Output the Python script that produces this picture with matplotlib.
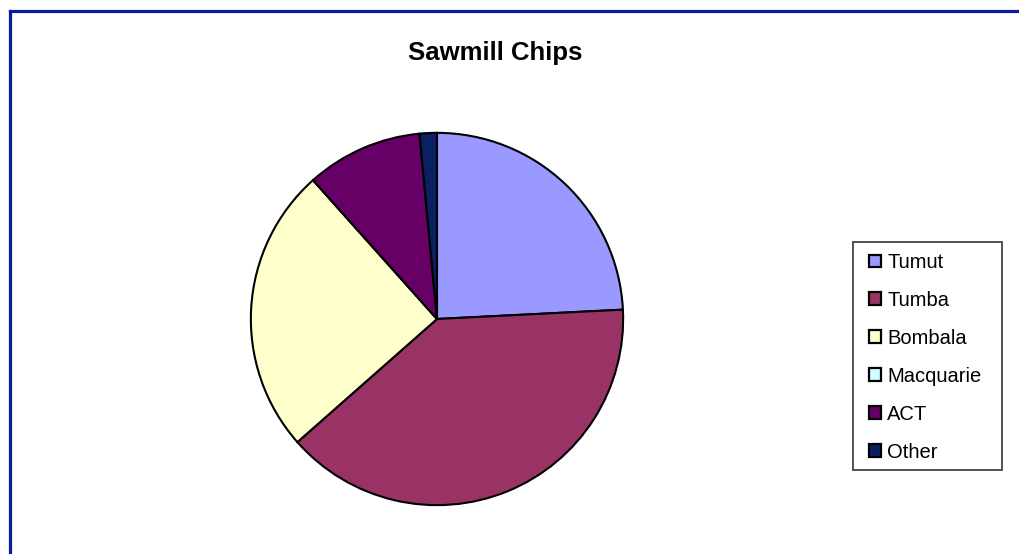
import matplotlib
matplotlib.use('Agg')
import matplotlib.pyplot as plt
from matplotlib.lines import Line2D
from matplotlib.patches import Patch, Rectangle

plt.rcParams['font.family'] = ['Liberation Sans', 'DejaVu Sans']

labels = ['Tumut', 'Tumba', 'Bombala', 'Macquarie', 'ACT', 'Other']
values = [24.2, 39.3, 24.9, 0.0, 10.1, 1.5]
colors = ['#9999FF', '#993366', '#FFFFCC', '#CCFFFF', '#660066', '#0A2060']

W, H = 1019, 554
fig = plt.figure(figsize=(W / 100, H / 100), dpi=100)

# pie centre ~ (437, 319) px, radius ~ 188 px
cx, cy, r = 437, 319, 188
ax = fig.add_axes([(cx - r) / W, (H - cy - r) / H, 2 * r / W, 2 * r / H])
ax.pie(values, colors=colors, startangle=90, counterclock=False,
       wedgeprops=dict(edgecolor='black', linewidth=1.5))
ax.set_xlim(-1.01, 1.01)
ax.set_ylim(-1.01, 1.01)
ax.set_aspect('equal')
ax.axis('off')

fig.text(495 / W, 1 - 53 / H, 'Sawmill Chips', ha='center', va='center',
         fontsize=18.5, fontweight='bold')

# legend frame drawn separately so the padding can differ per side
fig.add_artist(Rectangle((853 / W, 1 - 470 / H), 149 / W, 228 / H,
                         transform=fig.transFigure, facecolor='white',
                         edgecolor='#444444', linewidth=1.3, zorder=1))
handles = [Patch(facecolor=c, edgecolor='black', linewidth=1.6) for c in colors]
leg = fig.legend(handles, labels, loc='upper left',
                 bbox_to_anchor=(869 / W, 1 - 253 / H), borderaxespad=0,
                 borderpad=0, fontsize=14.5, frameon=False,
                 handlelength=0.6, handleheight=0.6,
                 handletextpad=0.3, labelspacing=0.94)
leg.set_zorder(2)

# blue outer border (top and left visible)
bc = '#0A1AA0'
fig.add_artist(Line2D([9.5 / W, 1], [1 - 10.5 / H, 1 - 10.5 / H], color=bc, linewidth=2.3,
                      transform=fig.transFigure))
fig.add_artist(Line2D([9.5 / W, 9.5 / W], [0, 1 - 10.5 / H], color=bc, linewidth=2.3,
                      transform=fig.transFigure))

fig.savefig('out.png', dpi=100, facecolor='white')
